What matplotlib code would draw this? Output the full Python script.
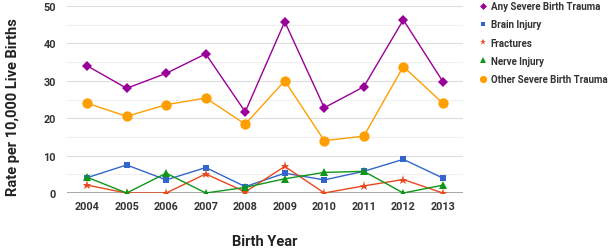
import matplotlib
matplotlib.use("Agg")
import matplotlib.pyplot as plt
from matplotlib.ticker import MultipleLocator

plt.rcParams['font.family'] = ['Roboto', 'DejaVu Sans']

years = [2004, 2005, 2006, 2007, 2008, 2009, 2010, 2011, 2012, 2013]
any_trauma = [34.0, 28.0, 32.0, 37.2, 21.7, 45.8, 22.8, 28.4, 46.3, 29.8]
brain = [4.1, 7.5, 3.5, 6.8, 1.7, 5.3, 3.5, 5.8, 9.0, 4.0]
fractures = [2.1, 0.0, 0.0, 5.1, 0.3, 7.1, 0.0, 1.9, 3.6, 0.0]
nerve = [4.2, 0.0, 5.3, 0.0, 1.5, 3.8, 5.5, 5.8, 0.0, 2.1]
other = [24.0, 20.5, 23.6, 25.4, 18.4, 30.0, 14.0, 15.2, 33.8, 24.0]

series = [
    ("Any Severe Birth Trauma", any_trauma, "#990099", "D", 5.0),
    ("Brain Injury", brain, "#3366cc", "s", 5.0),
    ("Fractures", fractures, "#e8491d", "*", 6.5),
    ("Nerve Injury", nerve, "#109618", "^", 6.0),
    ("Other Severe Birth Trauma", other, "#ff9e00", "o", 7.4),
]

W, H = 609, 253
fig = plt.figure(figsize=(W / 100, H / 100), dpi=100)
# plot area: x 67..463 px, y 7..194 px
ax = fig.add_axes([67 / W, 1 - 194 / H, 396 / W, 187 / H])

for label, vals, color, marker, ms in series:
    ax.plot(years, vals, color=color, marker=marker, markersize=ms, lw=1.0,
            label=label, markeredgewidth=0, zorder=3)

ax.set_ylim(0, 50)
ax.set_xlim(2003.49, 2013.51)
ax.set_xticks(years)
ax.yaxis.set_major_locator(MultipleLocator(10))
ax.yaxis.set_minor_locator(MultipleLocator(5))
ax.grid(True, which='major', axis='y', color='#dddddd', lw=0.8)
ax.grid(True, which='minor', axis='y', color='#efefef', lw=0.8)
ax.axhline(0, color='#999999', lw=1.2, zorder=2)
for s in ax.spines.values():
    s.set_visible(False)
ax.tick_params(which='both', length=0)
ax.tick_params(axis='x', labelsize=7.8, colors='#333333', pad=6)
ax.tick_params(axis='y', labelsize=7.8, colors='#333333', pad=8)
for t in ax.get_xticklabels() + ax.get_yticklabels():
    t.set_fontweight('bold')

fig.text(13 / W, 1 - 107 / H, "Rate per 10,000 Live Births", rotation=90,
         fontsize=10.5, fontweight='bold', color='#222222', ha='center', va='center')
fig.text(265 / W, 1 - 242 / H, "Birth Year", fontsize=10.5, fontweight='bold',
         color='#222222', ha='center', va='center')

leg = fig.legend(loc='upper left', bbox_to_anchor=(480 / W, 1 - 2 / H),
                 frameon=False, fontsize=7.0, handlelength=0.6,
                 handletextpad=0.5, labelspacing=0.85, borderpad=0,
                 borderaxespad=0, markerscale=0.7)
for t in leg.get_texts():
    t.set_fontweight('bold')
    t.set_color('#333333')
for h in leg.legend_handles:
    h.set_linestyle('none')

fig.savefig("out.png", dpi=100)
